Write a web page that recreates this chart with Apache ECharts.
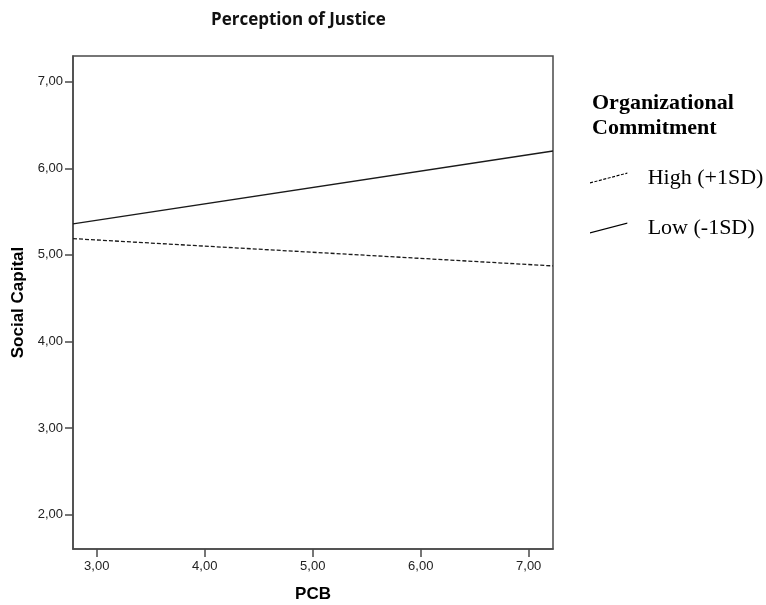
<!DOCTYPE html>
<html>
<head>
<meta charset="utf-8">
<script src="https://cdn.jsdelivr.net/npm/echarts@6/dist/echarts.min.js"></script>
<style>html,body{margin:0;padding:0;background:#fff}#c{width:766px;height:605px}</style>
</head>
<body>
<div id="c"></div>
<script>
var chartTitle = 'Perception of Justice';
var legendTitle = 'Organizational\nCommitment';
var xName = 'PCB';
var yName = 'Social Capital';
var seriesNames = ['High (+1SD)', 'Low (-1SD)'];
var xValues = [2.78, 7.225];
var highValues = [5.188, 4.873];
var lowValues = [5.358, 6.2];
var xTicks = [3, 4, 5, 6, 7];
var yTicks = [2, 3, 4, 5, 6, 7];
var xRange = [2.78, 7.225];
var yRange = [1.604, 7.297];

function fmt(v){ return v.toFixed(2).replace('.', ','); }

function dashedPath(){
  var s = 'path://', t = 0;
  while (t < 38) {
    var x1 = t, x2 = Math.min(t + 3, 38);
    var y1 = 10 - 10 * x1 / 38, y2 = 10 - 10 * x2 / 38;
    s += 'M' + x1 + ',' + y1 + 'L' + x2 + ',' + y2 + 'L' + x2 + ',' + (y2 + 1.2) + 'L' + x1 + ',' + (y1 + 1.2) + 'Z';
    t += 4.5;
  }
  return s;
}
var solidPath = 'path://M0,10L38,0L38,1.2L0,11.2Z';

var chart = echarts.init(document.getElementById('c'));
var axisColor = '#4a4a4a';
chart.setOption({
  animation: false,
  backgroundColor: '#fff',
  title: [{
    text: chartTitle, left: 211, top: 12, padding: 0,
    textStyle: {fontFamily: 'Open Sans', fontWeight: 'bold', fontSize: 17, color: '#111'}
  }, {
    text: legendTitle, left: 592, top: 91, padding: 0,
    textStyle: {fontFamily: 'Liberation Serif', fontWeight: 'bold', fontSize: 22, lineHeight: 25, color: '#000'}
  }],
  legend: {
    orient: 'vertical', left: 590, top: 167, itemGap: 28, padding: 0,
    itemWidth: 38, itemHeight: 11,
    data: [{name: seriesNames[0], icon: dashedPath()}, {name: seriesNames[1], icon: solidPath}],
    itemStyle: {color: '#000', borderWidth: 0},
    textStyle: {fontFamily: 'Liberation Serif', fontSize: 22, color: '#000', padding: [0, 0, 0, 15]}
  },
  grid: {left: 73, top: 56, right: 213, bottom: 56, show: true, borderColor: axisColor, borderWidth: 1.5, backgroundColor: '#fff', containLabel: false, outerBoundsMode: 'none'},
  xAxis: {
    type: 'value', min: xRange[0], max: xRange[1],
    name: xName, nameLocation: 'middle', nameGap: 37,
    nameTextStyle: {fontFamily: 'Liberation Sans', fontWeight: 'bold', fontSize: 17, color: '#000'},
    axisLine: {show: true, lineStyle: {color: axisColor, width: 1.5}},
    axisTick: {show: true, length: 8, customValues: xTicks, lineStyle: {color: axisColor, width: 1.5}},
    axisLabel: {customValues: xTicks, formatter: fmt, margin: 11, fontFamily: 'Liberation Sans', fontSize: 13, color: '#222'},
    splitLine: {show: false}
  },
  yAxis: {
    type: 'value', min: yRange[0], max: yRange[1],
    name: yName, nameLocation: 'middle', nameGap: 42, nameRotate: 90,
    nameTextStyle: {fontFamily: 'Liberation Sans', fontWeight: 'bold', fontSize: 17, color: '#000'},
    axisLine: {show: true, lineStyle: {color: axisColor, width: 1.5}},
    axisTick: {show: true, length: 8, customValues: yTicks, lineStyle: {color: axisColor, width: 1.5}},
    axisLabel: {customValues: yTicks, formatter: fmt, margin: 10, fontFamily: 'Liberation Sans', fontSize: 13, color: '#222'},
    splitLine: {show: false}
  },
  series: [{
    name: seriesNames[0], type: 'line', symbol: 'none', color: '#000',
    data: xValues.map(function(x, i){ return [x, highValues[i]]; }),
    lineStyle: {color: '#1a1a1a', width: 1.3, type: [4, 2]}
  }, {
    name: seriesNames[1], type: 'line', symbol: 'none', color: '#000',
    data: xValues.map(function(x, i){ return [x, lowValues[i]]; }),
    lineStyle: {color: '#1a1a1a', width: 1.3, type: 'solid'}
  }]
});
</script>
</body>
</html>
